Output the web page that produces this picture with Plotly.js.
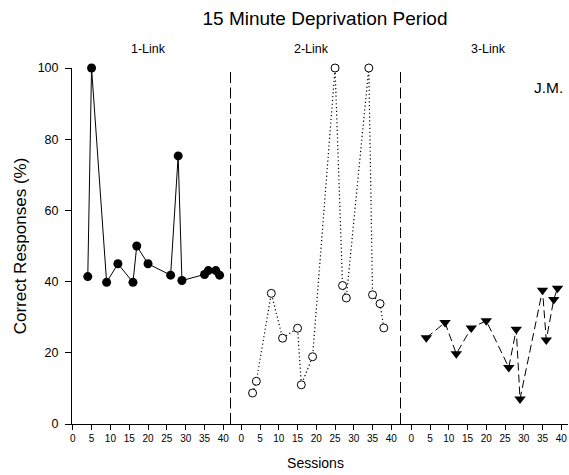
<!DOCTYPE html>
<html>
<head>
<meta charset="utf-8">
<script src="https://cdn.plot.ly/plotly-3.0.1.min.js"></script>
<style>html,body{margin:0;padding:0;background:#fff;}#chart{width:569px;height:475px;}</style>
</head>
<body>
<div id="chart"></div>
<script>
// Data
var link1Sessions = [4, 5, 9, 12, 16, 17, 20, 26, 28, 29, 35, 36, 38, 39];
var link1Values   = [41.4, 100, 39.8, 45, 39.8, 50, 45, 41.8, 75.3, 40.3, 42, 43.1, 43.1, 41.8];

var link2Sessions = [3, 4, 8, 11, 15, 16, 19, 25, 27, 28, 34, 35, 37, 38];
var link2Values   = [8.7, 12, 36.7, 24.1, 26.9, 11, 18.9, 100, 38.9, 35.4, 100, 36.3, 33.8, 27];

var link3Sessions = [4, 9, 12, 16, 20, 26, 28, 29, 35, 36, 38, 39];
var link3Values   = [24.2, 28.5, 19.7, 27, 29, 15.9, 26.6, 7, 37.6, 23.6, 35, 38.1];

var panelLabels = ['1-Link', '2-Link', '3-Link'];
var xTickVals = [0, 5, 10, 15, 20, 25, 30, 35, 40];
var yTickVals = [0, 20, 40, 60, 80, 100];

var FONT = 'Liberation Sans, Arial, Helvetica, sans-serif';

var traces = [
  {
    x: link1Sessions, y: link1Values, xaxis: 'x', yaxis: 'y',
    type: 'scatter', mode: 'lines+markers', cliponaxis: false,
    line: {color: '#000', width: 1},
    marker: {symbol: 'circle', size: 9, color: '#000'},
    name: panelLabels[0], showlegend: false
  },
  {
    x: link2Sessions, y: link2Values, xaxis: 'x2', yaxis: 'y',
    type: 'scatter', mode: 'lines+markers', cliponaxis: false,
    line: {color: '#000', width: 1.2, dash: '1.2px,2.6px'},
    marker: {symbol: 'circle', size: 8, color: '#fff', line: {color: '#000', width: 1}},
    name: panelLabels[1], showlegend: false
  },
  {
    x: link3Sessions, y: link3Values, xaxis: 'x3', yaxis: 'y',
    type: 'scatter', mode: 'lines+markers', cliponaxis: false,
    line: {color: '#000', width: 1, dash: '8px,4px'},
    marker: {symbol: 'triangle-down', size: 10, color: '#000'},
    name: panelLabels[2], showlegend: false
  }
];

var b1 = 0.3196, b2 = 0.6623;

function xAxis(domain, range) {
  return {
    domain: domain, range: range, anchor: 'y',
    showline: true, linecolor: '#000', linewidth: 1,
    ticks: 'outside', ticklen: 5, tickwidth: 1, tickcolor: '#000',
    tickmode: 'array', tickvals: xTickVals,
    tickfont: {family: FONT, size: 10, color: '#000'},
    showgrid: false, zeroline: false, fixedrange: true
  };
}

var x1 = xAxis([0, b1], [-0.19, 41.9]);
var x2 = xAxis([b1, b2], [-2.88, 42.45]);
x2.title = {text: 'Sessions', font: {family: FONT, size: 14, color: '#000'}, standoff: 15};
var x3 = xAxis([b2, 1], [-2.88, 41.8]);

var layout = {
  width: 569, height: 475,
  margin: {l: 72, r: 1, t: 68, b: 51},
  paper_bgcolor: '#fff', plot_bgcolor: '#fff',
  font: {family: FONT, color: '#000'},
  title: {
    text: '15 Minute Deprivation Period',
    font: {family: FONT, size: 19, color: '#000'},
    x: 325 / 569, xref: 'container', xanchor: 'center',
    y: 1 - 18.7 / 475, yref: 'container', yanchor: 'middle'
  },
  xaxis: x1, xaxis2: x2, xaxis3: x3,
  yaxis: {
    range: [0, 100], tickmode: 'array', tickvals: yTickVals,
    showline: true, linecolor: '#000', linewidth: 1,
    ticks: 'outside', ticklen: 6, tickwidth: 1, tickcolor: '#000',
    ticklabelstandoff: 4,
    tickfont: {family: FONT, size: 12.5, color: '#000'},
    showgrid: false, zeroline: false, fixedrange: true,
    title: {text: 'Correct Responses (%)', font: {family: FONT, size: 17, color: '#000'}, standoff: 6}
  },
  shapes: [b1, b2].map(function (bx) {
    return {type: 'line', xref: 'paper', yref: 'paper', x0: bx, x1: bx, y0: 0, y1: 1,
            line: {color: '#000', width: 1, dash: '11px,4.5px'}};
  }),
  annotations: [
    {text: panelLabels[0], x: 0.155, y: 1.053},
    {text: panelLabels[1], x: 0.482, y: 1.053},
    {text: panelLabels[2], x: 0.839, y: 1.053}
  ].map(function (a) {
    return {text: a.text, x: a.x, y: a.y, xref: 'paper', yref: 'paper',
            xanchor: 'center', yanchor: 'middle', showarrow: false,
            font: {family: FONT, size: 12.5, color: '#000'}};
  }).concat([
    {text: 'J.M.', x: 0.96, y: 0.9466, xref: 'paper', yref: 'paper',
     xanchor: 'center', yanchor: 'middle', showarrow: false,
     font: {family: FONT, size: 15.5, color: '#000'}}
  ])
};

Plotly.newPlot('chart', traces, layout, {displayModeBar: false, staticPlot: true});
</script>
</body>
</html>
